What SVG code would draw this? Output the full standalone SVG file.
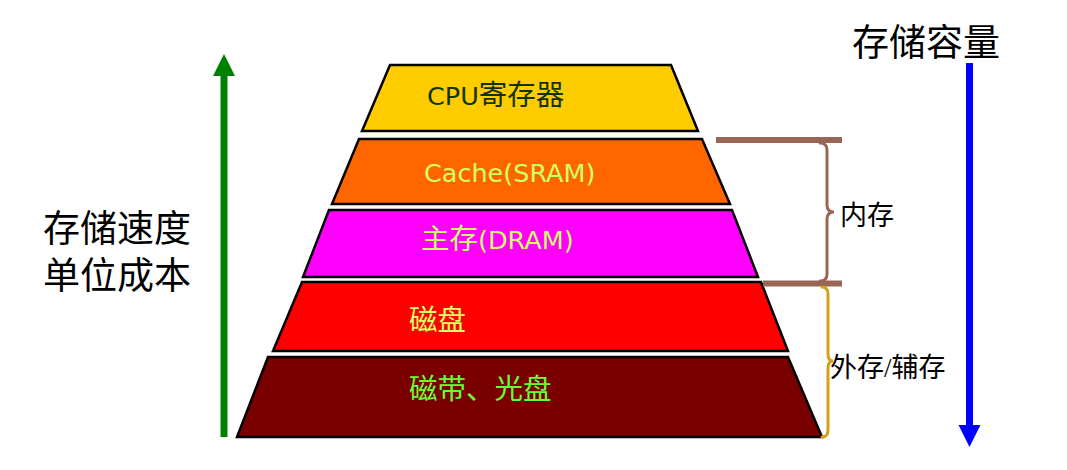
<svg xmlns="http://www.w3.org/2000/svg" width="1067" height="470" viewBox="0 0 1067 470">
<style>
.lvl{stroke:#000;stroke-width:2.5;stroke-linejoin:miter}
.lbl{font-family:"DejaVu Sans","Noto Sans CJK SC",sans-serif;font-size:25.5px}
.cjk{font-family:"Noto Sans CJK SC",sans-serif;font-size:28.5px}
.side{font-family:"Liberation Serif","Noto Sans CJK SC",serif;fill:#000}
.brace{fill:none;stroke-width:3;stroke-linecap:round}
</style>
<rect width="1067" height="470" fill="#fff"/>
<g id="axes">
<g id="speed-arrow">
<rect x="220.5" y="74" width="7" height="363" fill="#008000"/>
<polygon points="224,54 235,76 213,76" fill="#008000"/>
</g>
<g id="capacity-arrow">
<rect x="966" y="63" width="7" height="363" fill="#0000FF"/>
<polygon points="958.5,425 980.5,425 969.5,447" fill="#0000FF"/>
</g>
</g>
<g id="level-cpu">
<polygon class="lvl" points="390,65 671,65 698,131 362,131" fill="#FFCC00"/>
<text class="lbl" x="427" y="105" fill="#113300">CPU<tspan class="cjk">寄存器</tspan></text>
</g>
<g id="level-cache">
<polygon class="lvl" points="359,139 702,139 730,204 332,204" fill="#FF6600"/>
<text class="lbl" x="424" y="182" fill="#CCFF66">Cache(SRAM)</text>
</g>
<g id="level-dram">
<polygon class="lvl" points="329,210 732,210 758,277 303,277" fill="#FF00FF"/>
<text class="lbl" x="421" y="249" fill="#CCFF66"><tspan class="cjk">主存</tspan>(DRAM)</text>
</g>
<g id="level-disk">
<polygon class="lvl" points="302,282 761,282 788,351 273,351" fill="#FF0000"/>
<text class="cjk" x="409" y="330" fill="#DDFF66">磁盘</text>
</g>
<g id="level-tape">
<polygon class="lvl" points="268,357 788,357 822,437 237,437" fill="#7A0000"/>
<text class="cjk" x="409" y="399" fill="#66FF33">磁带、光盘</text>
</g>
<g id="connectors">
<line x1="716" y1="140" x2="842" y2="140" stroke="#996655" stroke-width="6"/>
<line x1="763" y1="283.5" x2="842" y2="283.5" stroke="#996655" stroke-width="6"/>
<path class="brace" stroke="#996655" d="M820,143 Q827,143 827,150 L827,205 Q827,212 834,212 Q827,212 827,219 L827,274 Q827,281 820,281"/>
<path class="brace" stroke="#D4A017" d="M822,287 Q828,287 828,294 L828,354 Q828,361 833,361 Q828,361 828,368 L828,430 Q828,437 822,437"/>
</g>
<g id="labels">
<text class="side" x="43" y="242" font-size="37">存储速度</text>
<text class="side" x="43" y="289" font-size="37">单位成本</text>
<text class="side" x="852" y="56" font-size="37">存储容量</text>
<text class="side" x="840" y="225" font-size="27">内存</text>
<text class="side" x="830" y="377" font-size="27">外存/辅存</text>
</g>
</svg>
